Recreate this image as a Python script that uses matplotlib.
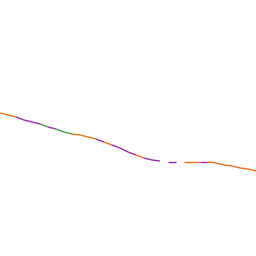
import matplotlib
matplotlib.use("Agg")
import matplotlib.pyplot as plt
import numpy as np
from matplotlib.collections import LineCollection

# Readings along the curve (x position, value)
xs = [0, 8, 16, 24, 32, 40, 48, 56, 64, 72, 80, 88, 96, 104, 112, 120, 128,
      136, 144, 152, 160, 168, 176, 184, 192, 200, 208, 216, 224, 232, 240, 248, 256]
ys = [143, 141, 139, 136, 134, 132, 129, 127, 124, 122, 121, 119, 117, 114, 111, 108, 104,
      101, 98, 96, 95, 94, 94, 94, 94, 94, 94, 93, 91, 90, 88, 87, 85]
# category of each segment between consecutive readings (None = no data)
cats = ["b", "b", "c", "c", "c", "a", "c", "a", "a", "b", "b", "b", "c", "b", "c", "c",
        "c", "b", "c", "c", None, "c", None, "b", "b", "c", "b", "b", "b", "b", "b", "b"]
palette = {"a": "#43a047", "b": "#e8711a", "c": "#9c27b0"}

fig = plt.figure(figsize=(2.56, 2.56), dpi=100)
ax = fig.add_axes([0, 0, 1, 1])

pts = np.column_stack([xs, ys])
segs = [np.array([pts[i], pts[i + 1]]) for i, c in enumerate(cats) if c]
cols = [palette[c] for c in cats if c]
lc = LineCollection(segs, colors=cols, linewidths=1.0)
ax.add_collection(lc)

ax.set_xlim(0, 256)
ax.set_ylim(0, 256)
ax.axis("off")

fig.savefig("out.png", dpi=100, facecolor="white")
